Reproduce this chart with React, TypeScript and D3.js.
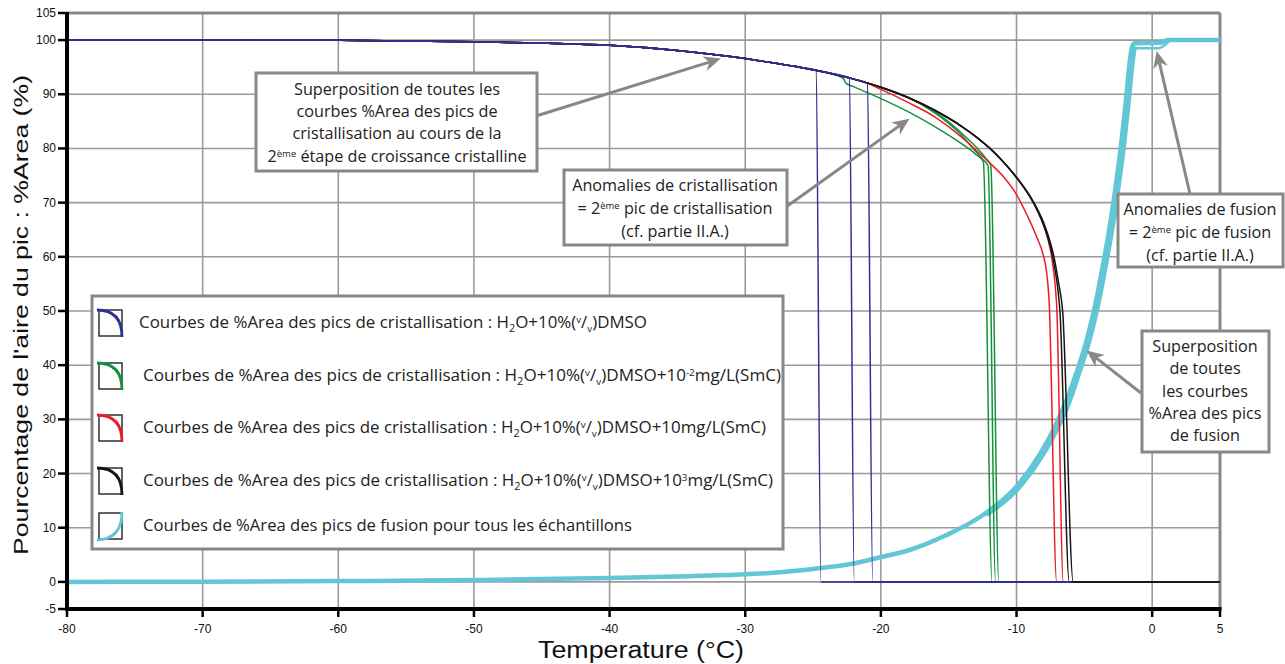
import React, { useEffect } from 'react';
import * as d3 from 'd3';

type P = [number, number];

// ---------- axes ----------
const xTicks = [-80, -70, -60, -50, -40, -30, -20, -10, 0, 5];
const yTicks = [105, 100, 90, 80, 70, 60, 50, 40, 30, 20, 10, 0, -5];
const yGrid = [100, 90, 80, 70, 60, 50, 40, 30, 20, 10, 0];
const xGrid = [-70, -60, -50, -40, -30, -20, -10, 0];

// ---------- crystallisation: common envelope (T °C, %Area) ----------
const envelope: P[] = [
  [-80, 100], [-70, 100], [-60, 99.95], [-50, 99.7], [-45, 99.45], [-40, 99.05],
  [-35, 98.1], [-30, 96.6], [-28, 95.8], [-26, 95.0], [-24, 94.0], [-22, 92.8],
  [-20, 91.3], [-18, 89.4], [-16, 87.0], [-14, 84.0], [-13, 82.2], [-12, 80.1],
  [-11, 77.6], [-10, 74.7], [-9, 71.2], [-8.5, 69.0], [-8, 66.3], [-7.5, 62.6],
  [-7.2, 59.5], [-6.9, 55.2], [-6.6, 50],
];

// tails of each curve after it leaves the envelope
const blue1Tail: P[] = [[-24.78, 94.4], [-24.42, 0], [-6, 0]];
const blue2Tail: P[] = [[-22.33, 93.0], [-21.96, 0], [-6, 0]];
const blue3Tail: P[] = [[-21.0, 92.0], [-20.6, 0], [-6, 0]];
const green1Tail: P[] = [
  [-22.77, 92.9], [-22.6, 92.1], [-22, 91.4], [-20, 89.2], [-18, 86.8], [-16, 84.0],
  [-14, 80.8], [-13, 78.9], [-12.45, 77.6], [-11.8, 0], [5, 0],
];
const green2Tail: P[] = [
  [-17, 88.1], [-16, 86.5], [-15, 84.6], [-14, 82.3], [-13.2, 80.0], [-12.5, 78.0],
  [-12.1, 76.8], [-11.54, 0], [5, 0],
];
const green3Tail: P[] = [
  [-17, 88.2], [-16, 86.7], [-15, 84.9], [-14, 82.7], [-13, 80.3], [-12.3, 78.3],
  [-11.9, 76.9], [-11.3, 0], [5, 0],
];
const red1Tail: P[] = [
  [-21.05, 92.05], [-20, 90.9], [-18, 88.5], [-16, 85.8], [-14, 82.0], [-13, 79.7],
  [-12, 77.4], [-11, 74.9], [-10, 71.5], [-9.5, 69.1], [-9, 66.5], [-8.5, 63.6],
  [-8.05, 60.5], [-7.8, 57.5], [-7.6, 52], [-7.04, 0], [5, 0],
];
const red2Tail: P[] = [
  [-9, 71.1], [-8.5, 68.8], [-8, 65.9], [-7.7, 63.4], [-7.41, 60], [-7.2, 56],
  [-7.04, 51], [-6.55, 0], [5, 0],
];
const black1Tail: P[] = [[-5.82, 0], [5, 0]];
const black2Tail: P[] = [
  [-10, 74.6], [-9, 71.0], [-8.5, 68.7], [-8, 65.8], [-7.5, 61.8], [-7.2, 58.2],
  [-6.95, 54], [-6.8, 50], [-6.11, 0], [5, 0],
];

// ---------- melting curves ----------
const cyanMain: P[] = [
  [-80, 0], [-70, 0.05], [-60, 0.15], [-50, 0.35], [-40, 0.7], [-35, 1.0], [-30, 1.4],
  [-27.4, 1.8], [-25, 2.4], [-22, 3.4], [-20, 4.6], [-18, 5.8], [-15.2, 8.6],
  [-12.5, 12.3], [-10, 17.6], [-8.3, 23.5], [-7.3, 28.0], [-6.4, 33.0], [-5.6, 38.5],
  [-4.9, 44], [-4.3, 50], [-3.7, 57.5], [-3.2, 64.5], [-2.75, 72], [-2.3, 80.5],
  [-1.95, 88.5], [-1.7, 95], [-1.5, 98.6], [-1.3, 99.4], [0.6, 99.5], [1.1, 100], [5, 100],
];
const cyanEdge: P[] = [
  [-12.2, 12.3], [-9.7, 17.6], [-8.0, 23.5], [-7.0, 28], [-6.1, 33], [-5.35, 38.5],
  [-4.65, 44], [-4.05, 50], [-3.45, 57.5], [-2.95, 64.5], [-2.5, 72], [-2.05, 80.5],
  [-1.7, 88.5], [-1.45, 95], [-1.25, 98.8],
];
const cyanAnomaly: P[] = [
  [-1.9, 88], [-1.6, 96], [-1.35, 98.5], [0.5, 98.5], [0.9, 99.0], [1.4, 100], [2, 100],
];

const C = {
  blue: '#2E3192',
  green: '#14913C',
  red: '#ED1C24',
  black: '#151515',
  cyan: '#62C6D6',
  gray: '#888888',
  grid: '#9a9a9a',
};

const branch = (t: number, tail: P[]): P[] => [...envelope.filter((p) => p[0] < t), ...tail];

const crystalSeries = [
  { color: C.green, data: branch(-22.77, green1Tail) },
  { color: C.green, data: branch(-17, green2Tail) },
  { color: C.green, data: branch(-17, green3Tail) },
  { color: C.red, data: branch(-21.05, red1Tail) },
  { color: C.red, data: branch(-9, red2Tail) },
  { color: C.black, data: branch(-10, black2Tail) },
  { color: C.black, data: [...envelope, ...black1Tail] },
  { color: C.blue, data: branch(-24.78, blue1Tail) },
  { color: C.blue, data: branch(-22.33, blue2Tail) },
  { color: C.blue, data: branch(-21.0, blue3Tail) },
];

const legendColors = [C.blue, C.green, C.red, C.black, C.cyan];

const W = 1285;
const H = 664;
const x = d3.scaleLinear().domain([-80, 5]).range([67, 1220]);
const y = d3.scaleLinear().domain([-5, 105]).range([609, 13]);
const line = d3
  .line<P>()
  .x((d) => x(d[0]))
  .y((d) => y(d[1]))
  .curve(d3.curveMonotoneX);

const SANS = '"Liberation Sans", Arial, sans-serif';
const MYR = '"Open Sans", "Noto Sans", sans-serif';

function Arrow({ x1, y1, x2, y2 }: { x1: number; y1: number; x2: number; y2: number }) {
  const a = Math.atan2(y2 - y1, x2 - x1);
  const L = 17;
  const Wd = 7.5;
  const n = 12;
  const bx = x2 - L * Math.cos(a);
  const by = y2 - L * Math.sin(a);
  const px = -Math.sin(a);
  const py = Math.cos(a);
  const nx = x2 - n * Math.cos(a);
  const ny = y2 - n * Math.sin(a);
  const pts = [
    [x2, y2],
    [bx + px * Wd, by + py * Wd],
    [nx, ny],
    [bx - px * Wd, by - py * Wd],
  ]
    .map((p) => p.join(','))
    .join(' ');
  return (
    <g>
      <line x1={x1} y1={y1} x2={nx} y2={ny} stroke={C.gray} strokeWidth={3} />
      <polygon points={pts} fill={C.gray} />
    </g>
  );
}

export default function App() {
  useEffect(() => {
    document.body.style.margin = '0';
  }, []);

  const legendRows = [323, 376, 428, 481, 526];
  const legendTextX = [139, 143, 143, 143, 143];
  const legendLen = [508, 638, 623, 630, 489];

  const crystRow = (i: number, suffix: React.ReactNode) => (
    <text
      key={i}
      x={legendTextX[i]}
      y={legendRows[i] + 5}
      fontFamily={MYR}
      fontSize={15.5}
      fill="#222"
      textLength={legendLen[i]}
      lengthAdjust="spacingAndGlyphs"
    >
      Courbes de %Area des pics de cristallisation : H
      <tspan dy={4} fontSize="10">2</tspan>
      <tspan dy={-4}>O+10%(</tspan>
      <tspan dy={-5} fontSize="9">v</tspan>
      <tspan dy={5}>/</tspan>
      <tspan dy={4} fontSize="9">v</tspan>
      <tspan dy={-4}>)DMSO</tspan>
      {suffix}
    </text>
  );

  const boxFont = 16.2;

  return (
    <svg
      width={W}
      height={H}
      style={{ position: 'absolute', left: 0, top: 0, background: '#fff' }}
    >
      <rect x={0} y={0} width={W} height={H} fill="#fff" />
      {/* grid */}
      {yGrid.map((v) => (
        <line key={'gy' + v} x1={x(-80)} x2={x(5)} y1={y(v)} y2={y(v)} stroke={C.grid} strokeWidth={1.6} />
      ))}
      {xGrid.map((v) => (
        <line key={'gx' + v} x1={x(v)} x2={x(v)} y1={y(105)} y2={y(-5)} stroke={C.grid} strokeWidth={1.6} />
      ))}
      {/* frame top/right */}
      <line x1={x(-80)} x2={x(5)} y1={y(105)} y2={y(105)} stroke={C.gray} strokeWidth={3} />
      <line x1={x(5)} x2={x(5)} y1={y(105)} y2={y(-5)} stroke={C.gray} strokeWidth={3} />

      {/* melting curves */}
      <path d={line(cyanMain) || ''} fill="none" stroke={C.cyan} strokeWidth={4.5} />
      <path d={line(cyanEdge) || ''} fill="none" stroke={C.cyan} strokeWidth={3.5} />
      <path d={line(cyanAnomaly) || ''} fill="none" stroke={C.cyan} strokeWidth={2.5} />

      {/* crystallisation curves */}
      {crystalSeries.map((s, i) => (
        <path key={'c' + i} d={line(s.data) || ''} fill="none" stroke={s.color} strokeWidth={1.5} />
      ))}

      {/* axes */}
      <line x1={x(-80)} x2={x(-80)} y1={y(105) - 1} y2={y(-5) + 2} stroke="#000" strokeWidth={4} />
      <line x1={x(-80) - 2} x2={x(5) + 1.5} y1={y(-5)} y2={y(-5)} stroke="#000" strokeWidth={4} />
      {yTicks.map((v) => (
        <g key={'yt' + v}>
          <line x1={x(-80) - 9} x2={x(-80)} y1={y(v)} y2={y(v)} stroke="#000" strokeWidth={2.5} />
          <text x={x(-80) - 11} y={y(v) + 4} textAnchor="end" fontFamily={SANS} fontSize={12} fill="#111">
            {v}
          </text>
        </g>
      ))}
      {xTicks.map((v) => (
        <g key={'xt' + v}>
          <line x1={x(v)} x2={x(v)} y1={y(-5)} y2={y(-5) + 8} stroke="#000" strokeWidth={2.5} />
          <text x={x(v)} y={y(-5) + 24} textAnchor="middle" fontFamily={SANS} fontSize={12} fill="#111">
            {v}
          </text>
        </g>
      ))}
      <text
        x={641}
        y={658}
        textAnchor="middle"
        fontFamily={SANS}
        fontSize={23}
        fill="#111"
        textLength={206}
        lengthAdjust="spacingAndGlyphs"
      >
        Temperature (°C)
      </text>
      <text
        transform={`translate(28, 315) rotate(-90)`}
        textAnchor="middle"
        fontFamily={SANS}
        fontSize={21}
        fill="#111"
        textLength={480}
        lengthAdjust="spacingAndGlyphs"
      >
        Pourcentage de l'aire du pic : %Area (%)
      </text>

      {/* legend */}
      <rect x={92} y={296} width={691} height={253} fill="#fff" stroke={C.gray} strokeWidth={3} />
      {legendRows.map((cy, i) => {
        const x0 = 99;
        const x1 = 122;
        const y0 = cy - 13;
        const y1 = cy + 13;
        const d =
          i < 4
            ? `M${x0 - 2},${y0} Q${x1},${y0} ${x1},${y1 + 1}`
            : `M${x0 - 2},${y1 + 1} Q${x1},${y1} ${x1},${y0 - 1}`;
        return (
          <g key={'lg' + i}>
            <rect x={x0} y={y0} width={x1 - x0} height={y1 - y0} fill="none" stroke="#222" strokeWidth={1.4} />
            <path d={d} fill="none" stroke={legendColors[i]} strokeWidth={2.8} />
          </g>
        );
      })}
      {crystRow(0, null)}
      {crystRow(
        1,
        <>
          <tspan>+10</tspan>
          <tspan dy={-5} fontSize="9">-2</tspan>
          <tspan dy={5}>mg/L(SmC)</tspan>
        </>
      )}
      {crystRow(2, <tspan>+10mg/L(SmC)</tspan>)}
      {crystRow(
        3,
        <>
          <tspan>+10</tspan>
          <tspan dy={-5} fontSize="9">3</tspan>
          <tspan dy={5}>mg/L(SmC)</tspan>
        </>
      )}
      <text
        x={legendTextX[4]}
        y={legendRows[4] + 5}
        fontFamily={MYR}
        fontSize={15.5}
        fill="#222"
        textLength={legendLen[4]}
        lengthAdjust="spacingAndGlyphs"
      >
        Courbes de %Area des pics de fusion pour tous les échantillons
      </text>

      {/* annotation 1 */}
      <Arrow x1={536} y1={116} x2={x(-31.8)} y2={y(96.6)} />
      <rect x={256} y={73} width={281} height={98} fill="#fff" stroke={C.gray} strokeWidth={3} />
      <g fontFamily={MYR} fontSize={boxFont} fill="#222" textAnchor="middle">
        <text x={397} y={95}>Superposition de toutes les</text>
        <text x={397} y={117}>courbes %Area des pics de</text>
        <text x={397} y={139}>cristallisation au cours de la</text>
        <text x={397} y={162}>
          2<tspan dy={-5} fontSize="9.5">ème</tspan>
          <tspan dy={5}> étape de croissance cristalline</tspan>
        </text>
      </g>

      {/* annotation 2 */}
      <Arrow x1={786} y1={207} x2={x(-17.9)} y2={y(85.5)} />
      <rect x={564} y={170} width={223} height={75} fill="#fff" stroke={C.gray} strokeWidth={3} />
      <g fontFamily={MYR} fontSize={boxFont} fill="#222" textAnchor="middle">
        <text x={675} y={191}>Anomalies de cristallisation</text>
        <text x={675} y={214}>
          = 2<tspan dy={-5} fontSize="9.5">ème</tspan>
          <tspan dy={5}> pic de cristallisation</tspan>
        </text>
        <text x={675} y={237}>(cf. partie II.A.)</text>
      </g>

      {/* annotation 3 */}
      <Arrow x1={1190} y1={194} x2={x(0.33)} y2={y(98.0)} />
      <rect x={1118} y={194} width={165} height={73} fill="#fff" stroke={C.gray} strokeWidth={3} />
      <g fontFamily={MYR} fontSize={boxFont} fill="#222" textAnchor="middle">
        <text x={1200} y={215}>Anomalies de fusion</text>
        <text x={1200} y={238}>
          = 2<tspan dy={-5} fontSize="9.5">ème</tspan>
          <tspan dy={5}> pic de fusion</tspan>
        </text>
        <text x={1200} y={261}>(cf. partie II.A.)</text>
      </g>

      {/* annotation 4 */}
      <Arrow x1={1141} y1={393} x2={x(-4.83)} y2={y(42.7)} />
      <rect x={1142} y={331} width={127} height={121} fill="#fff" stroke={C.gray} strokeWidth={3} />
      <g fontFamily={MYR} fontSize={boxFont} fill="#222" textAnchor="middle">
        <text x={1205} y={352}>Superposition</text>
        <text x={1205} y={374}>de toutes</text>
        <text x={1205} y={397}>les courbes</text>
        <text x={1205} y={419}>%Area des pics</text>
        <text x={1205} y={441}>de fusion</text>
      </g>
    </svg>
  );
}
